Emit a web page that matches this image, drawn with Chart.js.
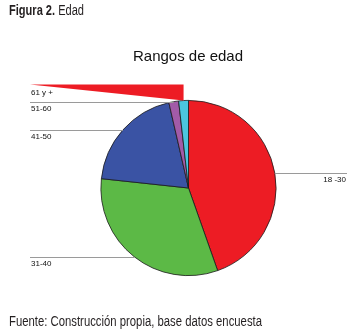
<!DOCTYPE html>
<html>
<head>
<meta charset="utf-8">
<script src="https://cdn.jsdelivr.net/npm/chart.js@4.4.1/dist/chart.umd.min.js"></script>
<style>
  html, body { margin: 0; padding: 0; background: #fff; }
  #wrap { position: relative; width: 354px; height: 329px; }
</style>
</head>
<body>
<div id="wrap"><canvas id="edadChart" width="354" height="329"></canvas></div>
<script>
// Rangos de edad (porcentaje)
const rangos = ['18 -30', '31-40', '41-50', '51-60', '61 y +'];
const porcentajes = [44.6, 32.1, 19.7, 1.8, 1.8];
const colores = ['#ED1C24', '#5CB946', '#3A53A4', '#A25BA8', '#4BC6DE'];

const tituloGrafico = 'Rangos de edad';
const figuraNum = 'Figura 2.';
const figuraTxt = ' Edad';
const fuente = 'Fuente: Construcción propia, base datos encuesta';

// texto "estrecho": se comprime horizontalmente hasta el ancho pedido
function textoEstrecho(ctx, partes, x, y, ancho) {
    let total = 0;
    partes.forEach(p => { ctx.font = p.font; total += ctx.measureText(p.txt).width; });
    const k = ancho / total;
    ctx.save();
    ctx.translate(x, y);
    ctx.scale(k, 1);
    let cx = 0;
    partes.forEach(p => {
        ctx.font = p.font;
        ctx.fillText(p.txt, cx, 0);
        cx += ctx.measureText(p.txt).width;
    });
    ctx.restore();
}

// Etiquetas con líneas guía, al estilo SPSS
const etiquetasPlugin = {
    id: 'etiquetas',
    afterDatasetsDraw(chart) {
        const ctx = chart.ctx;
        const meta = chart.getDatasetMeta(0);
        ctx.save();

        // textos de cabecera y pie
        ctx.fillStyle = '#231f20';
        ctx.textBaseline = 'alphabetic';
        ctx.textAlign = 'left';
        textoEstrecho(ctx, [
            { txt: figuraNum, font: 'bold 14px "Liberation Sans", Arial, sans-serif' },
            { txt: figuraTxt, font: '14px "Liberation Sans", Arial, sans-serif' }
        ], 9, 15, 75);
        textoEstrecho(ctx, [
            { txt: fuente, font: '14px "Liberation Sans", Arial, sans-serif' }
        ], 9, 325.5, 253);

        ctx.textBaseline = 'middle';
        ctx.fillStyle = '#111';
        ctx.textAlign = 'center';
        ctx.font = '15px "Liberation Sans", Arial, sans-serif';
        ctx.fillText(tituloGrafico, 188, 57);

        ctx.font = '8px "Liberation Sans", Arial, sans-serif';
        meta.data.forEach((arc, i) => {
            const a = (arc.startAngle + arc.endAngle) / 2;
            const px = arc.x + arc.outerRadius * Math.cos(a);
            const py = arc.y + arc.outerRadius * Math.sin(a);
            ctx.fillStyle = '#111';
            if (i === meta.data.length - 1) {
                // la guía del último sector sale como cuña roja
                ctx.beginPath();
                ctx.moveTo(30, py - 16);
                ctx.lineTo(px, py - 16);
                ctx.lineTo(px, py);
                ctx.closePath();
                ctx.fillStyle = colores[0];
                ctx.fill();
                ctx.fillStyle = '#111';
                ctx.textAlign = 'left';
                ctx.fillText(rangos[i], 31, py - 8);
                return;
            }
            ctx.strokeStyle = '#9a9a9a';
            ctx.lineWidth = 1;
            ctx.beginPath();
            if (px < arc.x) {
                ctx.moveTo(30, Math.round(py) + 0.5);
                ctx.lineTo(px, Math.round(py) + 0.5);
                ctx.stroke();
                ctx.textAlign = 'left';
                ctx.fillText(rangos[i], 31, py + 7);
            } else {
                ctx.moveTo(px, Math.round(py) + 0.5);
                ctx.lineTo(347, Math.round(py) + 0.5);
                ctx.stroke();
                ctx.textAlign = 'right';
                ctx.fillText(rangos[i], 346, py + 7);
            }
        });
        ctx.restore();
    }
};

const ctx = document.getElementById('edadChart').getContext('2d');
const edadChart = new Chart(ctx, {
    type: 'pie',
    data: {
        labels: rangos,
        datasets: [{
            data: porcentajes,
            backgroundColor: colores,
            borderColor: '#1a1a1a',
            borderWidth: 0.8
        }]
    },
    options: {
        responsive: false,
        animation: false,
        layout: {
            padding: { left: 100, right: 77, top: 100, bottom: 53 }
        },
        plugins: {
            legend: { display: false },
            title: { display: false },
            tooltip: { enabled: false }
        }
    },
    plugins: [etiquetasPlugin]
});
</script>
</body>
</html>
